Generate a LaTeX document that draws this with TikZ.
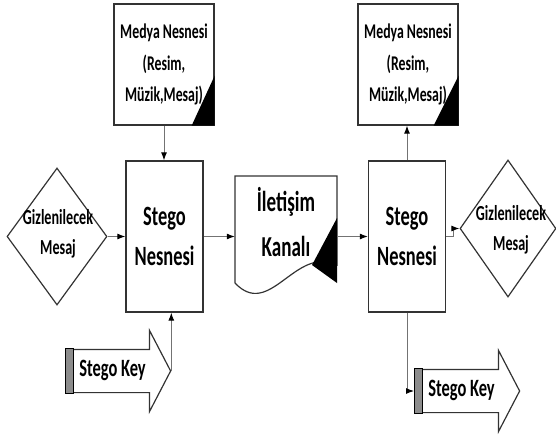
\documentclass[tikz,border=0pt]{standalone}
\usepackage{fontspec}
\setmainfont{Carlito}[FakeStretch=0.66]
\usepackage{tikz}
\usetikzlibrary{arrows.meta,shapes}

\begin{document}
\begin{tikzpicture}[
  kutu/.style={draw=black!80,line width=1.3bp,fill=white,inner sep=0pt},
  medya/.style={kutu,minimum width=100bp,minimum height=121bp,align=center,font=\fontsize{21}{32}\selectfont\bfseries},
  stego/.style={kutu,minimum width=77bp,minimum height=151bp,align=center,font=\fontsize{28}{41}\selectfont\bfseries},
  mesaj/.style={draw=black!80,line width=1.2bp,diamond,minimum width=100bp,minimum height=137bp,inner sep=0pt},
  yazi/.style={align=center,font=\fontsize{21.5}{30}\selectfont\bfseries},
  anahtar/.style={draw=black!80,line width=1.2bp,single arrow,single arrow head extend=19bp,single arrow tip angle=125,minimum height=105bp,text height=14bp,text depth=4bp,inner ysep=12bp,inner xsep=2bp,font=\fontsize{25}{29}\selectfont\bfseries},
  ok/.style={-{Latex[length=8bp,width=6bp,black]},draw=black!55,line width=1bp}]
\useasboundingbox (0bp,0bp) rectangle (556bp,-437bp);
\node (medyaL) at (164bp,-64.5bp)[medya] {Medya Nesnesi\\(Resim,\\Müzik,Mesaj)};
\node (medyaR) at (408bp,-64.5bp)[medya] {Medya Nesnesi\\(Resim,\\Müzik,Mesaj)};
\fill (medyaL.south east) -- ++(-23bp,0bp) -- ++(23bp,50bp) -- cycle;
\fill (medyaR.south east) -- ++(-25bp,0bp) -- ++(25bp,50bp) -- cycle;
\node (stegoL) at (164.5bp,-236.5bp)[stego] {Stego\\Nesnesi};
\node (stegoR) at (407bp,-236.5bp)[stego] {Stego\\Nesnesi};
\node (msgL) at (57bp,-236.5bp)[mesaj] {};
\node (msgLyazi) at (58bp,-233.5bp)[yazi] {Gizlenilecek\\Mesaj};
\node (msgR) at (508bp,-228.5bp)[mesaj,minimum width=96bp] {};
\node (msgRyazi) at (511bp,-230bp)[yazi] {Gizlenilecek\\Mesaj};
\node (kanal) at (286bp,-229.5bp)[minimum width=102bp,minimum height=107bp,inner sep=0pt] {};
\draw[draw=black!80,line width=1.2bp] (235bp,-283bp) -- (235bp,-176bp) -- (337bp,-176bp) -- (337bp,-265bp)
  .. controls (295bp,-245bp) and (270bp,-320bp) .. (235bp,-283bp);
\fill (337bp,-218bp) -- (337bp,-283bp) -- (312bp,-265bp) -- cycle;
\node (kanalyazi) at (286bp,-222bp)[align=center,font=\fontsize{29}{45}\selectfont\bfseries] {İletişim\\Kanalı};
\node (keyL) at (112.5bp,-371bp)[anahtar] {Stego Key};
\node (keyR) at (461.5bp,-391bp)[anahtar] {Stego Key};
\draw[fill=black!45,line width=1bp] (keyL.before tail) rectangle ([xshift=8bp]keyL.after tail);
\draw[fill=black!45,line width=1bp] (keyR.before tail) rectangle ([xshift=8bp]keyR.after tail);
\draw[ok] (msgL.east) -- (stegoL.west);
\draw[ok] (medyaL.south) -- (medyaL.south |- stegoL.north);
\draw[ok] (keyL.tip) -- (keyL.tip |- stegoL.south);
\draw[ok] (stegoL.east) -- (stegoL.east -| kanal.west);
\draw[ok] (kanal.east |- stegoR.west) -- (stegoR.west);
\draw[ok] (stegoR.north) -- (stegoR.north |- medyaR.south);
\draw[ok] (stegoR.east) -- ++(7bp,0bp) |- (msgR.west);
\draw[ok] (stegoR.south) |- (keyR.tail);
\end{tikzpicture}
\end{document}
